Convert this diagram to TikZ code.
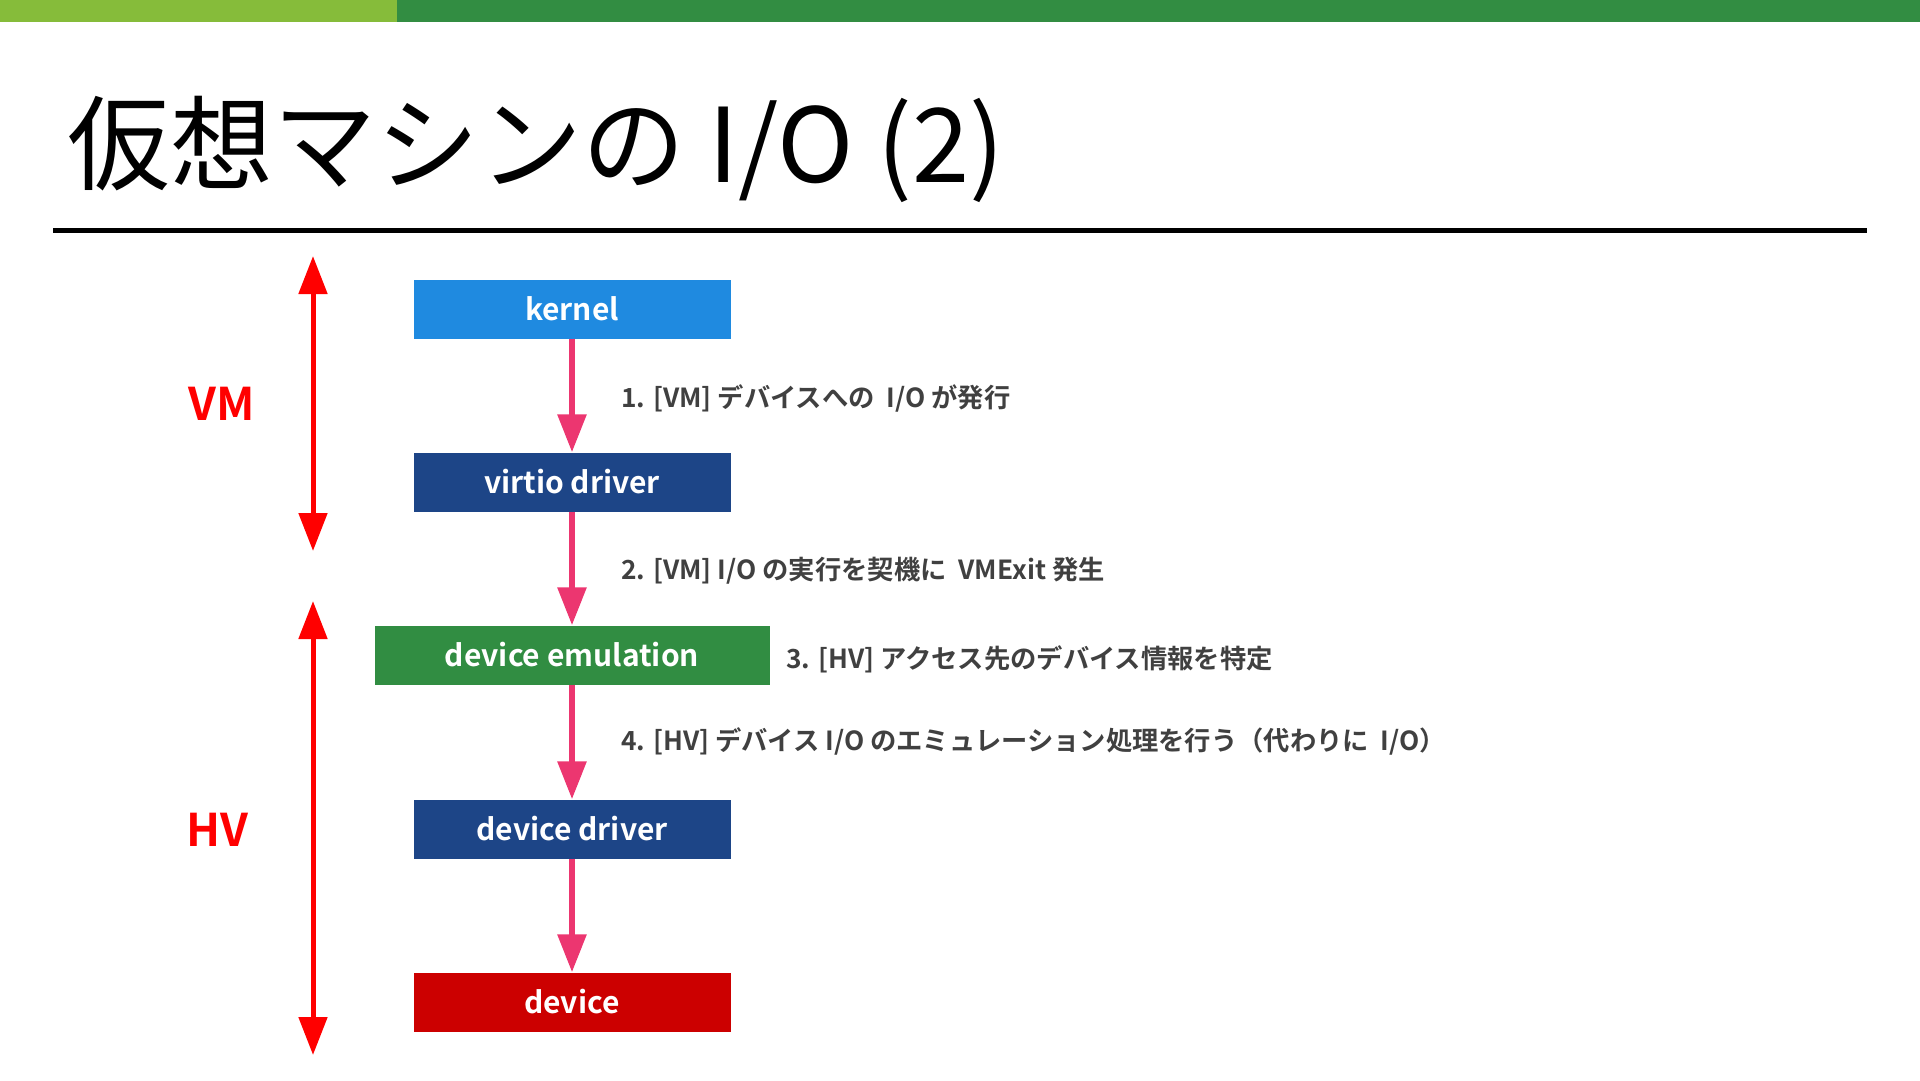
\documentclass[tikz,border=0pt]{standalone}
\usepackage{fontspec}
\setmainfont{Noto Sans CJK JP}[BoldFont={Noto Sans CJK JP Bold}]
\usetikzlibrary{arrows.meta,positioning}
\definecolor{barlight}{HTML}{86BC3A}
\definecolor{bardark}{HTML}{328D42}
\definecolor{kernelblue}{HTML}{1F8AE0}
\definecolor{driverblue}{HTML}{1D4587}
\definecolor{emugreen}{HTML}{318D42}
\definecolor{devred}{HTML}{CC0000}
\definecolor{flowpink}{HTML}{EC3670}
\definecolor{steptext}{HTML}{404040}
\tikzstyle{box}=[rectangle,minimum width=317pt,minimum height=59pt,inner sep=0pt,text=white,font=\bfseries\fontsize{30}{36}\selectfont]
\tikzstyle{flow}=[flowpink,line width=6pt,-{Triangle[width=28pt,length=38pt]}]
\tikzstyle{layerspan}=[red,line width=5pt,{Triangle[width=28pt,length=38pt]}-{Triangle[width=28pt,length=38pt]}]
\tikzstyle{steplabel}=[anchor=west,inner sep=0pt,text=steptext,font=\bfseries\fontsize{26.3}{31}\selectfont]
\tikzstyle{layer}=[text=red,font=\bfseries\fontsize{45}{52}\selectfont]

\begin{document}
\begin{tikzpicture}[x=1pt,y=-1pt]
\useasboundingbox (0,0) rectangle (1920,1081);

% header
\fill[barlight] (0,0) rectangle (397,22);
\fill[bardark] (397,0) rectangle (1920,22);
\node (title) at (67,182) [anchor=base west,inner sep=0pt,font=\fontsize{103}{120}\selectfont] {仮想マシンの I/O (2)};
\draw[line width=5pt] (53,230) -- (1867,230);

% stack
\node (kernel) at (572,309) [box,fill=kernelblue] {kernel};
\node (virtio) at (572,482) [box,fill=driverblue] {virtio driver};
\node (emu)    at (572,655) [box,fill=emugreen,minimum width=395pt] {device emulation};
\node (ddrv)   at (572,829) [box,fill=driverblue] {device driver};
\node (dev)    at (572,1002) [box,fill=devred] {device};

\draw[flow] (kernel) -- (virtio);
\draw[flow] (virtio) -- (emu);
\draw[flow] (emu) -- (ddrv);
\draw[flow] (ddrv) -- (dev);

% steps
\node (s1) at (621,398) [steplabel] {1. [VM] デバイスへの\ \ I/O が発行};
\node (s2) at (621,571) [steplabel] {2. [VM] I/O の実行を契機に\ \ VMExit 発生};
\node (s3) at (786,659) [steplabel] {3. [HV] アクセス先のデバイス情報を特定};
\node (s4) at (621,741) [steplabel] {4. [HV] デバイス I/O のエミュレーション処理を行う（代わりに\ \ I/O）};

% layers
\coordinate (vmtop) at (313,256);
\coordinate (vmbot) at (313,551);
\coordinate (hvtop) at (313,601);
\coordinate (hvbot) at (313,1055);
\draw[layerspan] (vmtop) -- (vmbot);
\draw[layerspan] (hvtop) -- (hvbot);
\node (vm) at (222,404) [layer] {VM};
\node (hv) at (217,830) [layer] {HV};
\end{tikzpicture}
\end{document}
